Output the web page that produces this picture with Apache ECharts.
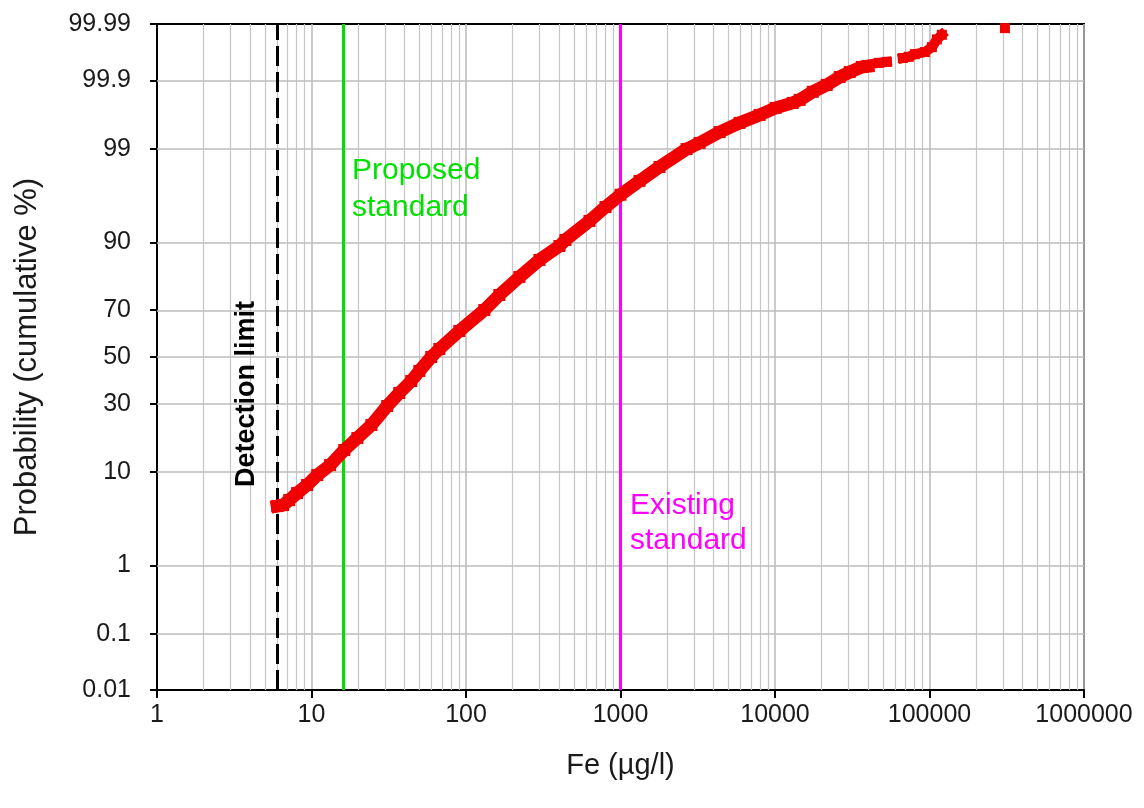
<!DOCTYPE html>
<html>
<head>
<meta charset="utf-8">
<script src="https://cdn.jsdelivr.net/npm/echarts@6/dist/echarts.min.js"></script>
<style>
html, body { margin: 0; padding: 0; background: #fff; }
#chart { width: 1144px; height: 808px; }
</style>
</head>
<body>
<div id="chart"></div>
<script>
// Fe concentration (ug/l) and cumulative probability (%)
var feValues = [6.0, 6.55, 7.17, 8.07, 9.37, 10.9, 13.2, 16.3, 19.8, 24.4,
    30.9, 37.0, 44.2, 49.9, 59.6, 67.2, 90.5, 131.5, 164.4, 221.6,
    298.7, 402.6, 440.4, 630, 800, 1000, 1328, 1789, 2677, 3251,
    4380, 5903, 7957, 10100, 13020, 14450, 17550, 21620, 26250, 30470,
    36450, 39860, 46960, 52920, 67200, 73480, 80370, 93300, 103600, 111600,
    120200, 307700];
var cumPercent = [4.8, 4.91, 5.5, 6.43, 7.64, 9.37, 11.37, 14.94, 18.27, 22.36,
    29.2, 34.38, 39.43, 43.8, 50.0, 53.56, 61.43, 70.02, 75.57, 81.43,
    86.08, 89.25, 90.44, 93.57, 95.31, 96.5, 97.54, 98.31, 98.99, 99.16,
    99.40, 99.553, 99.657, 99.730, 99.773, 99.796, 99.847, 99.881, 99.912, 99.927,
    99.940, 99.942, 99.949, 99.951, 99.958, 99.960, 99.964, 99.967, 99.973, 99.9805,
    99.984, 99.988];
// last index of each run of touching points
var runEnds = [41, 43, 50, 51];

var probTicks = [0.01, 0.1, 1, 10, 30, 50, 70, 90, 99, 99.9, 99.99];
var detectionLimit = 6;
var proposedStandard = 16;
var existingStandard = 1000;

// inverse of the standard normal cdf (Acklam)
function probit(p) {
    var a = [-3.969683028665376e+01, 2.209460984245205e+02, -2.759285104469687e+02,
        1.383577518672690e+02, -3.066479806614716e+01, 2.506628277459239e+00];
    var b = [-5.447609879822406e+01, 1.615858368580409e+02, -1.556989798598866e+02,
        6.680131188771972e+01, -1.328068155288572e+01];
    var c = [-7.784894002430293e-03, -3.223964580411365e-01, -2.400758277161838e+00,
        -2.549732539343734e+00, 4.374664141464968e+00, 2.938163982698783e+00];
    var d = [7.784695709041462e-03, 3.224671290700398e-01, 2.445134137142996e+00,
        3.754408661907416e+00];
    var plow = 0.02425, q, r;
    if (p < plow) {
        q = Math.sqrt(-2 * Math.log(p));
        return (((((c[0] * q + c[1]) * q + c[2]) * q + c[3]) * q + c[4]) * q + c[5]) /
            ((((d[0] * q + d[1]) * q + d[2]) * q + d[3]) * q + 1);
    }
    if (p > 1 - plow) {
        return -probit(1 - p);
    }
    q = p - 0.5;
    r = q * q;
    return (((((a[0] * r + a[1]) * r + a[2]) * r + a[3]) * r + a[4]) * r + a[5]) * q /
        (((((b[0] * r + b[1]) * r + b[2]) * r + b[3]) * r + b[4]) * r + 1);
}

var tickZ = probTicks.map(function (p) { return probit(p / 100); });

var FONT = 'Liberation Sans, Arial, sans-serif';
var RED = '#f00000';

// minor log grid lines 2..9 in each decade
var minorLines = [];
for (var k = 0; k < 6; k++) {
    for (var m = 2; m <= 9; m++) {
        minorLines.push({ xAxis: m * Math.pow(10, k) });
    }
}
var hLines = tickZ.slice(1, tickZ.length - 1).map(function (z) { return { yAxis: z }; });

var series = [{
    type: 'line',
    data: [],
    silent: true,
    z: 1,
    markLine: {
        silent: true,
        symbol: 'none',
        label: { show: false },
        animation: false,
        lineStyle: { color: '#c6c6c6', width: 1.2, type: 'solid' },
        data: minorLines
    }
}, {
    type: 'line',
    data: [],
    silent: true,
    z: 1,
    markLine: {
        silent: true,
        symbol: 'none',
        label: { show: false },
        animation: false,
        lineStyle: { color: '#bdbdbd', width: 1.6, type: 'solid' },
        data: hLines
    }
}, {
    type: 'line',
    data: [],
    silent: true,
    z: 2,
    markLine: {
        silent: true,
        symbol: 'none',
        label: { show: false },
        animation: false,
        data: [
            { xAxis: detectionLimit, lineStyle: { color: '#000', width: 3, type: [20, 6] } },
            { xAxis: proposedStandard, lineStyle: { color: '#00e000', width: 3, type: 'solid' } },
            { xAxis: existingStandard, lineStyle: { color: '#ff00ff', width: 3, type: 'solid' } }
        ]
    }
}];

var start = 0;
runEnds.forEach(function (end) {
    var pts = [];
    for (var i = start; i <= end; i++) {
        pts.push([feValues[i], probit(cumPercent[i] / 100)]);
    }
    var big = pts.length > 10;
    series.push({
        type: 'line',
        data: pts,
        z: 5,
        symbol: 'rect',
        symbolSize: big ? 12 : 10,
        itemStyle: { color: RED },
        lineStyle: { color: RED, width: big ? 13 : 10, cap: 'square', join: 'round' },
        silent: true
    });
    start = end + 1;
});

var chart = echarts.init(document.getElementById('chart'));
chart.setOption({
    animation: false,
    backgroundColor: '#fff',
    grid: {
        left: 157, right: 60, top: 24, bottom: 118,
        show: true, borderColor: '#000', borderWidth: 2, backgroundColor: '#fff'
    },
    xAxis: {
        type: 'log',
        logBase: 10,
        min: 1,
        max: 1000000,
        splitNumber: 6,
        name: 'Fe (\u00b5g/l)',
        nameLocation: 'middle',
        nameGap: 61,
        nameTextStyle: { fontFamily: FONT, fontSize: 29, color: '#1a1a1a' },
        axisLine: { onZero: false, lineStyle: { color: '#000', width: 2 } },
        axisTick: { show: true, length: 8, lineStyle: { color: '#000', width: 2 } },
        axisLabel: {
            margin: 13,
            fontFamily: FONT, fontSize: 25, color: '#1a1a1a',
            formatter: function (v) { return String(Math.round(v)); }
        },
        splitLine: { show: true, lineStyle: { color: '#bdbdbd', width: 1.6 } },
        minorTick: { show: false },
        minorSplitLine: { show: false }
    },
    yAxis: {
        type: 'value',
        min: tickZ[0],
        max: tickZ[tickZ.length - 1],
        name: 'Probability (cumulative %)',
        nameLocation: 'middle',
        nameGap: 114,
        nameTextStyle: { fontFamily: FONT, fontSize: 31, color: '#1a1a1a' },
        axisLine: { show: true, onZero: false, lineStyle: { color: '#000', width: 2 } },
        axisTick: { show: true, length: 7, customValues: tickZ, lineStyle: { color: '#000', width: 2 } },
        axisLabel: {
            margin: 26,
            fontFamily: FONT, fontSize: 25, color: '#1a1a1a',
            customValues: tickZ,
            formatter: function (v) {
                var best = 0;
                for (var i = 1; i < tickZ.length; i++) {
                    if (Math.abs(tickZ[i] - v) < Math.abs(tickZ[best] - v)) best = i;
                }
                return String(probTicks[best]);
            }
        },
        splitLine: { show: false }
    },
    graphic: [{
        type: 'text',
        x: 247, y: 394,
        rotation: Math.PI / 2,
        z: 10,
        style: {
            text: 'Detection limit',
            font: 'bold 27px ' + FONT,
            fill: '#000',
            align: 'center',
            verticalAlign: 'middle'
        }
    }, {
        type: 'text',
        x: 352, y: 189,
        z: 10,
        style: {
            text: 'Proposed\nstandard',
            font: '30px ' + FONT,
            lineHeight: 37,
            fill: '#00e000',
            align: 'left',
            verticalAlign: 'middle'
        }
    }, {
        type: 'text',
        x: 630, y: 523,
        z: 10,
        style: {
            text: 'Existing\nstandard',
            font: '30px ' + FONT,
            lineHeight: 35,
            fill: '#ff00ff',
            align: 'left',
            verticalAlign: 'middle'
        }
    }],
    series: series
});
</script>
</body>
</html>
